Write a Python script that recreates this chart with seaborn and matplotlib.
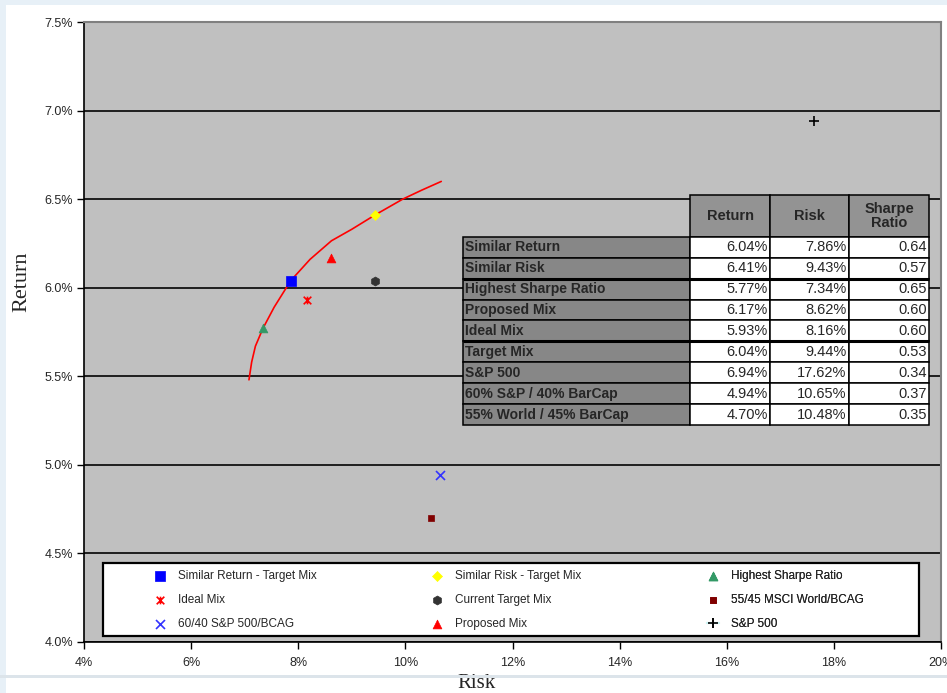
import matplotlib
matplotlib.use("Agg")
import matplotlib.pyplot as plt
import seaborn as sns
from matplotlib.patches import Rectangle
from matplotlib.lines import Line2D
from matplotlib.path import Path
from matplotlib.ticker import FuncFormatter, MultipleLocator

# Portfolio statistics (percent) shown in the table and as points
portfolios = ["Similar Return", "Similar Risk", "Highest Sharpe Ratio", "Proposed Mix",
              "Ideal Mix", "Target Mix", "S&P 500", "60% S&P / 40% BarCap",
              "55% World / 45% BarCap"]
returns = [6.04, 6.41, 5.77, 6.17, 5.93, 6.04, 6.94, 4.94, 4.70]
risks = [7.86, 9.43, 7.34, 8.62, 8.16, 9.44, 17.62, 10.65, 10.48]
sharpe = [0.64, 0.57, 0.65, 0.60, 0.60, 0.53, 0.34, 0.37, 0.35]

# Legend names of the plotted series, in the same order as the portfolios
series_names = ["Similar Return - Target Mix", "Similar Risk - Target Mix",
                "Highest Sharpe Ratio", "Proposed Mix", "Ideal Mix",
                "Current Target Mix", "S&P 500", "60/40 S&P 500/BCAG",
                "55/45 MSCI World/BCAG"]

# Efficient frontier (risk %, return %)
frontier_risk = [7.08, 7.13, 7.20, 7.34, 7.55, 7.86, 8.22, 8.62, 9.00, 9.43, 9.95, 10.30, 10.67]
frontier_return = [5.48, 5.58, 5.67, 5.77, 5.89, 6.04, 6.16, 6.265, 6.33, 6.41, 6.50, 6.55, 6.60]

table_cols = ["", "Return", "Risk", "Sharpe\nRatio"]

# Legend columns (top to bottom, left to right)
legend_columns = [
    ["Similar Return - Target Mix", "Ideal Mix", "60/40 S&P 500/BCAG"],
    ["Similar Risk - Target Mix", "Current Target Mix", "Proposed Mix"],
    ["Highest Sharpe Ratio", "55/45 MSCI World/BCAG", "S&P 500"],
]

# Excel-like star marker: an X crossed by a vertical bar
star = Path([(-1, -1), (1, 1), (-1, 1), (1, -1), (0, -1), (0, 1)],
            [Path.MOVETO, Path.LINETO, Path.MOVETO, Path.LINETO, Path.MOVETO, Path.LINETO])

styles = {
    "Similar Return - Target Mix": dict(marker="s", color="#0000FF", s=46, filled=True),
    "Similar Risk - Target Mix": dict(marker="D", color="#FFFF00", s=26, filled=True),
    "Highest Sharpe Ratio": dict(marker="^", color="#339966", s=40, filled=True),
    "Proposed Mix": dict(marker="^", color="#FF0000", s=40, filled=True),
    "Ideal Mix": dict(marker=star, color="#FF0000", s=30, filled=False),
    "Current Target Mix": dict(marker="h", color="#333333", s=42, filled=True),
    "S&P 500": dict(marker="+", color="#000000", s=55, filled=False),
    "60/40 S&P 500/BCAG": dict(marker="x", color="#3333FF", s=42, filled=False),
    "55/45 MSCI World/BCAG": dict(marker="s", color="#800000", s=22, filled=True),
}

sns.set_style("ticks")
plt.rcParams["font.family"] = ["Liberation Sans", "DejaVu Sans"]

W, H = 947, 693
fig = plt.figure(figsize=(W / 100, H / 100), dpi=100)
fig.patch.set_facecolor("white")

# Frame decorations of the page
fig.patches.append(Rectangle((0, 1 - 5 / H), 1, 5 / H, transform=fig.transFigure,
                             facecolor="#E7F0F7", edgecolor="none", zorder=0))
fig.patches.append(Rectangle((0, 0), 6 / W, 1, transform=fig.transFigure,
                             facecolor="#E7F0F7", edgecolor="none", zorder=0))
fig.patches.append(Rectangle((0, 1 - 678 / H), 1, 3 / H, transform=fig.transFigure,
                             facecolor="#DCE4EA", edgecolor="none", zorder=0))

ax_l, ax_r, ax_t, ax_b = 84, 941, 22, 642
ax = fig.add_axes([ax_l / W, 1 - ax_b / H, (ax_r - ax_l) / W, (ax_b - ax_t) / H])
ax.set_facecolor("#C0C0C0")
ax.set_xlim(4, 20)
ax.set_ylim(4.0, 7.5)

ax.xaxis.set_major_locator(MultipleLocator(2))
ax.yaxis.set_major_locator(MultipleLocator(0.5))
ax.xaxis.set_major_formatter(FuncFormatter(lambda v, p: f"{v:.0f}%"))
ax.yaxis.set_major_formatter(FuncFormatter(lambda v, p: f"{v:.1f}%"))
ax.tick_params(axis="both", labelsize=9, length=5, width=1, color="black", direction="out")
ax.tick_params(axis="y", pad=3)
ax.tick_params(axis="x", pad=6)

ax.set_axisbelow(True)
ax.yaxis.grid(True, color="#111111", linewidth=1.3)
ax.xaxis.grid(False)
for side in ("left", "bottom"):
    ax.spines[side].set_color("black")
    ax.spines[side].set_linewidth(1.2)
for side in ("top", "right"):
    ax.spines[side].set_visible(True)
    ax.spines[side].set_color("#808080")
    ax.spines[side].set_linewidth(1.5)

# Efficient frontier
sns.lineplot(x=frontier_risk, y=frontier_return, sort=False, color="#FF0000",
             linewidth=1.2, ax=ax, zorder=3)

# Portfolio points
handles = {}
for name, rk, rt in zip(series_names, risks, returns):
    st = styles[name]
    lw = 0.5 if st["filled"] else 1.2
    sns.scatterplot(x=[rk], y=[rt], marker=st["marker"], color=st["color"],
                    edgecolor=st["color"], linewidth=lw, s=st["s"], ax=ax,
                    zorder=5, legend=False)
    handles[name] = ax.collections[-1]

# S&P 500 entry carries a faint connector line in the legend
handles["S&P 500"] = Line2D([], [], color="#CCF5F5", linewidth=1.5, marker="+",
                            markersize=7, markeredgecolor="black", markeredgewidth=1.2)

axw, axh = ax_r - ax_l, ax_b - ax_t

# Legend box
ax.add_patch(Rectangle(((103 - ax_l) / axw, (ax_b - 636) / axh), 816 / axw, 73 / axh,
                       transform=ax.transAxes, facecolor="white", edgecolor="black",
                       linewidth=1.6, zorder=6))
col_x = [160, 437, 713]
for cx, names in zip(col_x, legend_columns):
    leg = ax.legend([handles[n] for n in names], names, loc="upper left",
                    bbox_to_anchor=((cx - 6 - ax_l) / axw, (ax_b - 570) / axh),
                    bbox_transform=ax.transAxes, frameon=False, fontsize=8.5,
                    handlelength=1.0, handletextpad=1.0, labelspacing=1.03,
                    borderpad=0, borderaxespad=0, scatterpoints=1)
    leg.set_zorder(7)
    ax.add_artist(leg)

# Statistics table
cell_text = [[lab, f"{r:.2f}%", f"{k:.2f}%", f"{s:.2f}"]
             for lab, r, k, s in zip(portfolios, returns, risks, sharpe)]
tb_left, tb_right, tb_top, tb_bottom = 463, 929, 195, 425
tbl = ax.table(cellText=cell_text, colLabels=table_cols,
               cellLoc="right", colLoc="center",
               bbox=[(tb_left - ax_l) / axw, (ax_b - tb_bottom) / axh,
                     (tb_right - tb_left) / axw, (tb_bottom - tb_top) / axh])
tbl.auto_set_font_size(False)
tbl.set_zorder(4)
col_w = {0: 227, 1: 80, 2: 79, 3: 80}
for (r, c), cell in tbl.get_celld().items():
    cell.set_width(col_w[c] / axw)
    cell.set_height((2 if r == 0 else 1) / axh)
    cell.set_edgecolor("black")
    cell.set_linewidth(1.1)
    txt = cell.get_text()
    txt.set_fontfamily(["Liberation Sans", "DejaVu Sans"])
    if r == 0 and c == 0:
        cell.set_visible(False)
    elif r == 0:
        cell.set_facecolor("#939393")
        txt.set_fontsize(10.5)
        txt.set_fontweight("bold")
        txt.set_linespacing(1.0)
    elif c == 0:
        cell.set_facecolor("#878787")
        cell.PAD = 0.01
        txt.set_horizontalalignment("left")
        cell._loc = "left"
        txt.set_fontsize(10)
        txt.set_fontweight("bold")
    else:
        cell.set_facecolor("white")
        cell.PAD = 0.03
        txt.set_fontsize(10.5)

# Heavier separators between the table groups
row_px = (tb_bottom - tb_top) / 11
for k in (4, 7):
    yy = (ax_b - (tb_top + k * row_px)) / axh
    ax.plot([(tb_left - ax_l) / axw, (tb_right - ax_l) / axw], [yy, yy],
            transform=ax.transAxes, color="black", linewidth=2.2, zorder=6,
            solid_capstyle="butt")

ax.set_xlabel("Risk", fontsize=15, family=["Liberation Serif", "DejaVu Serif"])
ax.set_ylabel("Return", fontsize=16, family=["Liberation Serif", "DejaVu Serif"])
ax.xaxis.set_label_coords((476 - ax_l) / axw, (ax_b - 683) / axh)
ax.xaxis.label.set_va("center")
ax.yaxis.set_label_coords((22 - ax_l) / axw, (ax_b - 282) / axh)
ax.yaxis.label.set_va("center")

fig.savefig("out.png", dpi=100, facecolor=fig.get_facecolor())
